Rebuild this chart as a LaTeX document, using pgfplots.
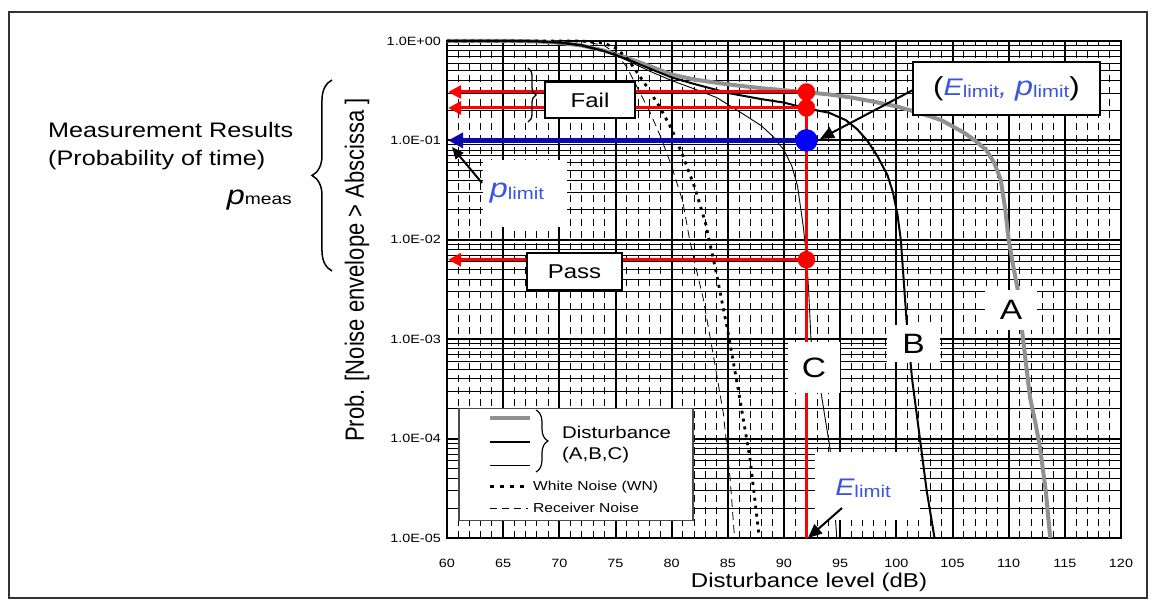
\documentclass[border=0pt]{standalone}
\usepackage{fontspec}
\setmainfont{Liberation Sans}[FakeStretch=1.2]
\newfontfamily\plainsans{Liberation Sans}
\usepackage{pgfplots}
\pgfplotsset{compat=1.18}
\usetikzlibrary{arrows.meta,decorations.pathreplacing}
\definecolor{txtblue}{RGB}{60,85,220}
\definecolor{lineblue}{RGB}{10,10,170}
\definecolor{dotblue}{RGB}{0,0,255}
\definecolor{curvegray}{RGB}{145,145,145}
\newcommand{\fs}[1]{\fontsize{#1}{#1}\selectfont}
\newcommand{\sublim}{\raisebox{-2pt}{\fs{17}\upshape limit}}

\begin{document}
\begin{tikzpicture}
\path[use as bounding box] (-447pt,-66pt) rectangle (709pt,538pt);
\begin{axis}[
  at={(0pt,0pt)}, anchor=south west, scale only axis,
  width=674pt, height=497pt,
  xmin=60, xmax=120, ymin=1e-5, ymax=1, ymode=log,
  xtick={60,65,...,120},
  xticklabels={60,65,70,75,80,85,90,95,100,105,110,115,120},
  minor x tick num=4,
  ytick={1e-5,1e-4,1e-3,1e-2,1e-1,1},
  yticklabels={1.0E-05,1.0E-04,1.0E-03,1.0E-02,1.0E-01,1.0E+00},
  minor ytick={2e-5,3e-5,4e-5,5e-5,6e-5,7e-5,8e-5,9e-5,
               2e-4,3e-4,4e-4,5e-4,6e-4,7e-4,8e-4,9e-4,
               2e-3,3e-3,4e-3,5e-3,6e-3,7e-3,8e-3,9e-3,
               0.02,0.03,0.04,0.05,0.06,0.07,0.08,0.09,
               0.2,0.3,0.4,0.5,0.6,0.7,0.8,0.9},
  grid=both,
  major grid style={black, line width=2pt},
  minor y grid style={black, line width=0.9pt},
  minor x grid style={black, line width=0.9pt, dash pattern=on 7pt off 5pt},
  major tick length=0pt, minor tick length=0pt,
  axis line style={black, line width=2pt},
  tick label style={font=\fs{12}},
  yticklabel style={inner sep=0pt, xshift=-6pt},
  xticklabel style={inner sep=0pt, yshift=-21pt},
  clip=false,
]
% disturbance A
\addplot[curvegray, line width=4pt] coordinates {
 (60,1) (66,1) (68,0.99) (70,0.96) (72,0.90) (74,0.80) (76,0.68) (78,0.56)
 (80,0.46) (82,0.41) (84,0.38) (86,0.355) (88,0.335) (90,0.32) (92,0.305)
 (94,0.29) (96,0.27) (98,0.245) (100,0.22) (102,0.19) (104,0.16) (106,0.12)
 (107,0.10) (108,0.08) (108.7,0.06) (109.3,0.04) (109.7,0.02) (110,0.01)
 (110.4,0.0055) (110.8,0.0032) (111.2,0.0012) (111.6,0.0005) (111.9,0.00026)
 (112.4,0.00014) (112.8,0.00008) (113.3,0.00003) (113.7,0.00001)};
% disturbance B
\addplot[black, line width=2pt] coordinates {
 (60,1) (66,1) (68,0.99) (70,0.96) (72,0.90) (74,0.79) (76,0.66) (78,0.53)
 (80,0.43) (82,0.37) (85,0.30) (88,0.26) (90,0.24) (92,0.21) (94,0.19)
 (95.5,0.16) (96.5,0.13) (97.4,0.10) (98.3,0.07) (99.2,0.045) (99.7,0.03)
 (100.1,0.018) (100.4,0.01) (100.9,0.0016) (101.4,0.0004) (102.1,0.0001)
 (102.7,0.00003) (103.4,0.00001)};
% disturbance C
\addplot[black, line width=0.9pt] coordinates {
 (60,1) (68,1) (70,0.98) (72,0.92) (74,0.80) (76,0.64) (78,0.50) (80,0.40)
 (82,0.33) (84,0.27) (85,0.23) (86.5,0.18) (88,0.14) (89,0.11) (90,0.08)
 (90.7,0.055) (91.2,0.035) (91.7,0.014) (92,0.007) (92.2,0.003) (92.4,0.001)
 (92.8,0.0005) (93.3,0.00029) (93.7,0.00015) (94.1,0.00008) (94.4,0.00003)
 (94.7,0.00001)};
% white noise
\addplot[black, line width=2.8pt, dash pattern=on 3pt off 5pt] coordinates {
 (60,1) (72,1) (74,0.95) (75,0.85) (76,0.68) (77,0.47) (78,0.32) (79,0.21)
 (80,0.13) (81,0.07) (82,0.035) (83,0.015) (84,0.0045) (85,0.0012)
 (86,0.00028) (87,0.00006) (87.8,0.00001)};
% receiver noise
\addplot[black, line width=0.8pt, dash pattern=on 8pt off 5pt] coordinates {
 (60,1) (72,1) (74,0.9) (75,0.75) (76,0.55) (77,0.33) (78,0.2) (79,0.11)
 (80,0.055) (81,0.024) (81.6,0.01) (82.2,0.005) (82.8,0.0026) (83.7,0.0007)
 (84.6,0.00018) (85.2,0.00004) (85.6,0.00001)};
% limit lines
\addplot[red, line width=3pt, -{Triangle[length=13pt,width=13pt]}] coordinates {(92,0.307) (60.1,0.307)};
\addplot[red, line width=3pt, -{Triangle[length=13pt,width=13pt]}] coordinates {(92,0.212) (60.1,0.212)};
\addplot[red, line width=3pt, -{Triangle[length=13pt,width=13pt]}] coordinates {(92,0.0063) (60.1,0.0063)};
\addplot[red, line width=3pt] coordinates {(92,0.307) (92,0.00001)};
\addplot[lineblue, line width=5pt, -{Triangle[length=15pt,width=15pt]}] coordinates {(92,0.1) (60.1,0.1)};
\addplot[only marks, mark=*, mark size=8.5pt, red, mark options={draw=none}] coordinates {(92,0.307) (92,0.212) (92,0.0063)};
\addplot[only marks, mark=*, mark size=11pt, dotblue, mark options={draw=none}] coordinates {(92,0.1)};
\end{axis}

\begin{scope}[x=1pt, y=-1pt, shift={(-447pt,538pt)}]
\draw[line width=1.5pt, black!80] (9,12) rectangle (1147,598);
% left annotation
\node[anchor=base west, inner sep=0, font=\fs{21}] at (48,138) {Measurement Results};
\node[anchor=base west, inner sep=0, font=\fs{21}] at (48,166) {(Probability of time)};
\node[anchor=base east, inner sep=0] at (292,205) {\fs{27}\itshape p\upshape\fs{16}meas};
\draw[line width=1.5pt, decorate, decoration={brace, amplitude=20pt}] (332,271) -- (332,80);
\node[rotate=90, inner sep=0] at (357,270) {\scalebox{1}[1.2]{\plainsans\fs{22}Prob. [Noise envelope > Abscissa ]}};
\node[inner sep=0, font=\fs{20}] at (809,582) {Disturbance level (dB)};
% boxes
\draw[line width=1.3pt, decorate, decoration={brace, amplitude=8pt}] (528,68) -- (528,122);
\node[draw, line width=2pt, fill=white, minimum width=90pt, minimum height=36pt, inner sep=0, font=\fs{20}] at (590,100) {Fail};
\node[draw, line width=2pt, fill=white, minimum width=95pt, minimum height=37pt, inner sep=0, font=\fs{20}] at (574.5,271.5) {Pass};
\fill[white] (483,160) rectangle (567,227);
\node[inner sep=0, text=txtblue] at (517,193) {\fs{27}\itshape p\sublim};
\fill[white] (815,452) rectangle (920,520);
\node[inner sep=0, text=txtblue] at (863,488) {\fs{24}\itshape E\sublim};
\node[draw, line width=2pt, fill=white, minimum width=187pt, minimum height=53pt, inner sep=0] at (1006.5,88.5)
  {\fs{26}(\textcolor{txtblue}{\fs{24}\itshape E\sublim,\ \fs{27}p\sublim})};
\node[fill=white, minimum width=52pt, minimum height=51pt, inner sep=0, font=\fs{28}] at (814,367.5) {C};
\node[fill=white, minimum width=53pt, minimum height=37pt, inner sep=0, font=\fs{28}] at (913.5,343.5) {B};
\node[fill=white, minimum width=52pt, minimum height=40pt, inner sep=0, font=\fs{28}] at (1011,310) {A};
% arrows
\draw[line width=2pt, -{Triangle[length=12pt,width=10pt]}] (482,183) -- (452,147);
\draw[line width=2pt, -{Triangle[length=14pt,width=12pt]}] (913,90) -- (820,139);
\draw[line width=2pt, -{Triangle[length=14pt,width=12pt]}] (842,508) -- (808,538);
% legend
\node[draw=black!70, line width=1.5pt, fill=white, minimum width=234pt, minimum height=112pt, anchor=north west, inner sep=0] at (458,408) {};
\draw[curvegray, line width=4pt] (490,418) -- (530,418);
\draw[black, line width=2pt] (490,442) -- (530,442);
\draw[black, line width=0.9pt] (490,465) -- (530,465);
\draw[decorate, decoration={brace, amplitude=12pt}, line width=1.2pt] (536,410) -- (536,472);
\node[anchor=west, inner sep=0, font=\fs{17}] at (562,432) {Disturbance};
\node[anchor=west, inner sep=0, font=\fs{17}] at (562,455) {(A,B,C)};
\draw[line width=3pt, dash pattern=on 4pt off 6pt] (490,487) -- (528,487);
\node[anchor=west, inner sep=0, font=\fs{13}] at (533,487) {White Noise (WN)};
\draw[line width=0.9pt, dash pattern=on 7pt off 5pt] (490,508) -- (528,508);
\node[anchor=west, inner sep=0, font=\fs{13}] at (533,508) {Receiver Noise};
\end{scope}
\end{tikzpicture}
\end{document}
